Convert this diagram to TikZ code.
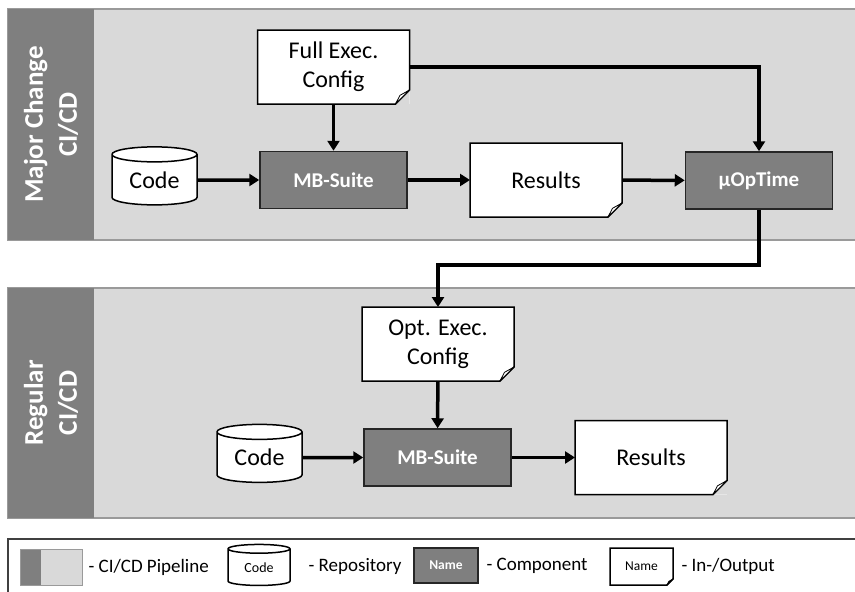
\documentclass[tikz,border=0pt]{standalone}
\usepackage{fontspec}
\setmainfont{Carlito}
\usetikzlibrary{arrows.meta,calc,shapes.geometric}

\definecolor{bandgray}{HTML}{7F7F7F}
\definecolor{panelgray}{HTML}{D9D9D9}
\definecolor{framegray}{HTML}{9A9A9A}

% outline of a sheet with cut corner and fold: [colour behind](node)(fold size)
\def\docsheet[#1](#2)(#3){
	\fill[#1] ($(#2.south east)+(-#3,0pt)$) -- (#2.south east) -- ($(#2.south east)+(0pt,#3)$) -- cycle;
	\draw[line width=1.5pt] ($(#2.south east)+(-#3,0pt)$) -- (#2.south west) -- (#2.north west)
		-- (#2.north east) -- ($(#2.south east)+(0pt,#3)$) -- cycle;
	\draw[line width=0.8pt, fill=white, line join=round] ($(#2.south east)+(-#3,0pt)$)
		-- ($(#2.south east)+(-0.68*#3,0.62*#3)$) -- ($(#2.south east)+(0pt,#3)$) -- cycle;
}

\tikzset{
	panel/.style={fill=panelgray, draw=framegray, line width=1.5pt},
	band/.style={fill=bandgray},
	stage/.style={text=white, font=\bfseries\fontsize{27}{34}\selectfont, rotate=90, align=center},
	comp/.style={draw=black!85, fill=bandgray, text=white, line width=1.5pt, inner sep=0pt,
		minimum width=147pt, minimum height=57pt, font=\bfseries\fontsize{21}{25}\selectfont},
	repo/.style={cylinder, shape border rotate=90, aspect=0.3, draw, fill=white, line width=1.5pt,
		inner sep=0pt, minimum width=85pt, minimum height=58pt, font=\fontsize{24}{28}\selectfont},
	doc/.style={rectangle, fill=white, inner sep=0pt, outer sep=0pt, minimum width=152pt, minimum height=74pt,
		align=center, font=\fontsize{24}{29}\selectfont},
	flow/.style={line width=3.5pt, -{Triangle[length=10pt,width=12pt]}},
	legtext/.style={anchor=west, font=\fontsize{19}{22}\selectfont}
}

\begin{document}
\begin{tikzpicture}[x=1pt, y=-1pt]
		%%%%% START %%%%%
		\useasboundingbox (0,0) rectangle (855,592);
		
		% pipelines
		\draw[panel] (8,9) rectangle (880,240);
		\fill[band] (8,9) rectangle (94,240);
		\node[stage] (major) at (51,124.5) {Major Change\\CI/CD};
		
		\draw[panel] (8,288) rectangle (880,518);
		\fill[band] (8,288) rectangle (94,518);
		\node[stage] (regular) at (51,403) {Regular\\CI/CD};
		
		% major change pipeline
		\node[doc] (fullcfg) at (333.5,67) {Full Exec.\\Config};
		\docsheet[panelgray](fullcfg)(14pt)
		\node[repo] (code1) at (154.5,180) {Code};
		\node[comp] (suite1) at (333.5,180) {MB-Suite};
		\node[doc] (res1) at (546,180) {Results};
		\docsheet[panelgray](res1)(14pt)
		\node[comp] (uop) at (759,180.5) {µOpTime};
		\coordinate (turn) at (759,265);
		
		% regular pipeline
		\node[doc] (optcfg) at (438,344) {Opt. Exec.\\Config};
		\docsheet[panelgray](optcfg)(14pt)
		\node[repo] (code2) at (259.5,457.5) {Code};
		\node[comp] (suite2) at (437.5,457.5) {MB-Suite};
		\node[doc] (res2) at (651,457.5) {Results};
		\docsheet[panelgray](res2)(14pt)
		
		\draw[flow] (code1) -- (suite1);
		\draw[flow] (fullcfg) -- (suite1);
		\draw[flow] (suite1) -- (res1);
		\draw[flow] (res1) -- (uop);
		\draw[flow] (fullcfg.east) -| (uop);
		\draw[flow] (uop) -- (turn) -| (optcfg);
		
		\draw[flow] (optcfg) -- (suite2);
		\draw[flow] (code2) -- (suite2);
		\draw[flow] (suite2) -- (res2);
		
		% legend
		\draw[draw=black!75, line width=1.2pt] (8,539) rectangle (880,620);
		\draw[draw=framegray, fill=panelgray, line width=1pt] (20,549) rectangle (82,585);
		\fill[band] (20.5,549.5) rectangle (41,584.5);
		\node[legtext] (lpipe) at (85,567) {- CI/CD Pipeline};
		\node[repo, minimum width=62pt, minimum height=41pt, font=\fontsize{14}{16}\selectfont] (lrepo) at (259,567.5) {Code};
		\node[legtext] (lrepotext) at (305,566) {- Repository};
		\node[comp, minimum width=64pt, minimum height=35pt, font=\bfseries\fontsize{13.5}{16}\selectfont] (lcomp) at (446,565.5) {Name};
		\node[legtext] (lcomptext) at (483,566) {- Component};
		\node[doc, minimum width=63pt, minimum height=37pt, font=\fontsize{13.5}{16}\selectfont] (ldoc) at (641.5,566.5) {Name};
		\docsheet[white](ldoc)(6pt)
		\node[legtext] (ldoctext) at (678,566) {- In-/Output};
		%%%%% END %%%%%
\end{tikzpicture}
\end{document}
